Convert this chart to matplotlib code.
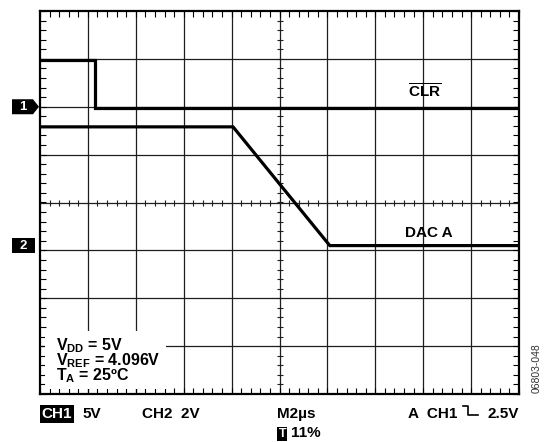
import numpy as np
import matplotlib
matplotlib.use('Agg')
import matplotlib.pyplot as plt
from matplotlib.patches import Polygon, Rectangle
from matplotlib.lines import Line2D

# ---- data (divisions) ----
clr_time = [0.0, 1.15, 1.15, 10.0]
clr_level = [2.98, 2.98, 1.97, 1.97]
dac_time = [0.0, 4.03, 6.05, 10.0]
dac_level = [1.58, 1.58, -0.9, -0.9]
ch_refs = [2.0, -0.9]
ch_labels = ['1', '2']
trace_labels = [r'$\overline{\mathrm{CLR}}$', 'DAC A']
cond_lines = [r'$\mathrm{V_{DD}}$ = 5V', r'$\mathrm{V_{REF}}$ = 4.096V', r'$\mathrm{T_{A}}$ = 25ºC']
x_divs = 10
y_divs = 8

plt.rcParams['font.family'] = ['Liberation Sans', 'DejaVu Sans']
plt.rcParams['font.weight'] = 'bold'
plt.rcParams['mathtext.fontset'] = 'custom'
plt.rcParams['mathtext.rm'] = 'Liberation Sans:bold'
plt.rcParams['mathtext.it'] = 'Liberation Sans:bold'
plt.rcParams['mathtext.bf'] = 'Liberation Sans:bold'

W, H = 544, 442
def fx(px):
    return px / W
def fy(py):
    return 1 - py / H

fig = plt.figure(figsize=(W / 100, H / 100), dpi=100)
ax = fig.add_axes([40 / W, 48 / H, 479 / W, 383 / H])
ax.set_xlim(0, x_divs)
ax.set_ylim(-y_divs / 2, y_divs / 2)

grid_col = '#1e1e1e'
for k in range(1, x_divs):
    ax.axvline(k, color=grid_col, lw=0.9, zorder=1)
for k in range(-y_divs // 2 + 1, y_divs // 2):
    ax.axhline(k, color=grid_col, lw=0.9, zorder=1)

xt = np.arange(0, x_divs + 0.001, 0.2)
yt = np.arange(-y_divs / 2, y_divs / 2 + 0.001, 0.2)
ax.set_xticks(xt)
ax.set_yticks(yt)
ax.tick_params(direction='in', length=4, width=0.8, top=True, right=True,
               bottom=True, left=True, labelbottom=False, labelleft=False,
               color='black')
# center crosshair ticks
ax.plot(xt, np.zeros_like(xt), ls='none', marker='|', ms=4.5, mew=0.8,
        color=grid_col, zorder=1)
ax.plot(np.full_like(yt, x_divs / 2), yt, ls='none', marker='_', ms=4.5,
        mew=0.8, color=grid_col, zorder=1)

for s in ax.spines.values():
    s.set_linewidth(1.6)
    s.set_zorder(4)

# white condition box
ax.add_patch(Rectangle((0.104, -3.89), 2.53, 1.21, facecolor='white',
                       edgecolor='none', zorder=1.8))

# traces
ax.plot(clr_time, clr_level, color='black', lw=2.3, zorder=3,
        solid_joinstyle='miter')
ax.plot(dac_time, dac_level, color='black', lw=2.3, zorder=3,
        solid_joinstyle='miter')

# channel markers
tr = ax.get_yaxis_transform()
x0 = (12 - 40) / 479
xb = (33 - 40) / 479
xtip = (39 - 40) / 479
hh = 7.5 / 47.9
ax.add_patch(Polygon([(x0, ch_refs[0] - hh), (xb, ch_refs[0] - hh),
                      (xtip, ch_refs[0]), (xb, ch_refs[0] + hh),
                      (x0, ch_refs[0] + hh)], closed=True, transform=tr,
                     facecolor='black', edgecolor='none', clip_on=False))
ax.text((x0 + xb) / 2, ch_refs[0], ch_labels[0], transform=tr, color='white',
        ha='center', va='center', fontsize=9.5)
x1r = (35 - 40) / 479
ax.add_patch(Rectangle((x0, ch_refs[1] - hh), x1r - x0, 2 * hh, transform=tr,
                       facecolor='black', edgecolor='none', clip_on=False))
ax.text((x0 + x1r) / 2, ch_refs[1], ch_labels[1], transform=tr, color='white',
        ha='center', va='center', fontsize=9.5)

# trace labels
fig.text(fx(425), fy(98), trace_labels[0], ha='center', va='baseline', fontsize=11)
fig.text(fx(429), fy(237), trace_labels[1], ha='center', va='baseline', fontsize=11)

# condition texts
for i, line in enumerate(cond_lines):
    fig.text(fx(56), fy(350 + 15 * i), line, ha='left', va='baseline', fontsize=11.5)

# bottom readouts
fig.text(fx(41.5), fy(418), 'CH1', ha='left', va='baseline', fontsize=11,
         color='white', bbox=dict(facecolor='black', edgecolor='none', pad=1.2))
fig.text(fx(82), fy(418), '5V', ha='left', va='baseline', fontsize=11)
fig.text(fx(142), fy(418), 'CH2  2V', ha='left', va='baseline', fontsize=11)
fig.text(fx(277), fy(418), 'M2µs', ha='left', va='baseline', fontsize=11)
fig.text(fx(408), fy(418), 'A  CH1', ha='left', va='baseline', fontsize=11)
fig.text(fx(487), fy(418), '2.5V', ha='left', va='baseline', fontsize=11)
fig.add_artist(Line2D([fx(463), fx(468), fx(468), fx(478)],
                      [fy(406), fy(406), fy(415), fy(415)],
                      color='black', lw=1.2))
fig.text(fx(278.5), fy(437), 'T', ha='left', va='baseline', fontsize=9,
         color='white', bbox=dict(facecolor='black', edgecolor='none', pad=0.8))
fig.text(fx(291), fy(437), '11%', ha='left', va='baseline', fontsize=11)

fig.text(fx(537), fy(368), '06803-048', rotation=90, ha='center', va='center',
         fontsize=7.5, fontweight='normal', color='#333333')

fig.savefig('out.png', dpi=100)
